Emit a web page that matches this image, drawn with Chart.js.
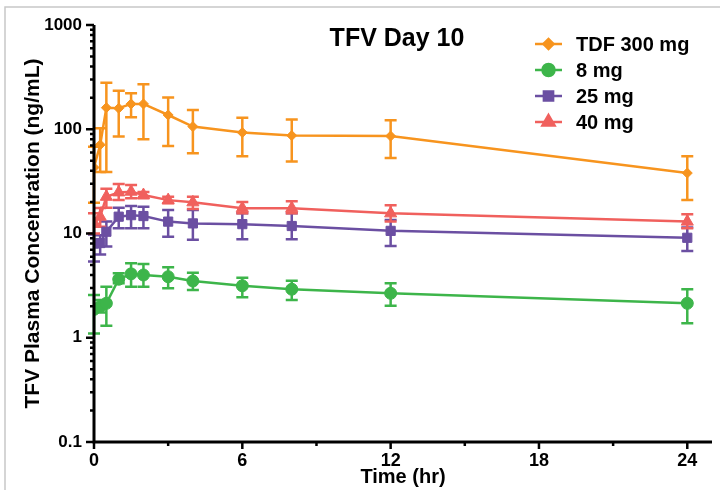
<!DOCTYPE html>
<html>
<head>
<meta charset="utf-8">
<script src="https://cdn.jsdelivr.net/npm/chart.js@4.4.1/dist/chart.umd.min.js"></script>
<style>
  html, body { margin: 0; padding: 0; background: #fff; }
  #wrap { width: 720px; height: 490px; }
</style>
</head>
<body>
<div id="wrap"><canvas id="chart" width="720" height="490"></canvas></div>
<script>
// thời gian lấy mẫu (giờ)
const times = [0, 0.25, 0.5, 1, 1.5, 2, 3, 4, 6, 8, 12, 24];

// TDF 300 mg
const tdfMean = [43, 71, 161, 159, 175, 175, 137, 106, 93, 87, 86, 38];
const tdfHi = [68, 102, 280, 234, 221, 270, 202, 153, 129, 124, 122, 55];
const tdfLo = [19.7, 39, 39, 85, 130, 80, 69, 59, 55, 49, 53, 21];

// 8 mg
const mg8Mean = [1.87, 1.99, 2.14, 3.64, 4.1, 4.0, 3.85, 3.5, 3.15, 2.92, 2.67, 2.14];
const mg8Hi = [2.57, 2.3, 3.09, 4.16, 5.17, 5.1, 4.74, 4.2, 3.77, 3.52, 3.33, 2.92];
const mg8Lo = [1.1, 1.75, 1.3, 3.33, 3.09, 3.09, 2.98, 2.87, 2.44, 2.3, 2.03, 1.38];

// 25 mg
const mg25Mean = [8.0, 8.1, 10.4, 14.5, 15.0, 14.7, 13.0, 12.5, 12.3, 11.8, 10.6, 9.1];
const mg25Hi = [9.8, 9.6, 13.0, 17.7, 18.4, 18.1, 16.8, 16.8, 15.6, 15.6, 13.5, 11.4];
const mg25Lo = [5.4, 6.3, 7.5, 11.2, 11.2, 11.2, 9.3, 8.7, 8.8, 8.8, 7.6, 6.8];

// 40 mg
const mg40Mean = [12.7, 14.5, 22.5, 24.8, 25.2, 23.4, 20.9, 19.9, 17.5, 17.5, 15.6, 13.0];
const mg40Hi = [15.6, 17.6, 26.9, 29.9, 29.2, 25.0, 22.5, 22.5, 20.1, 20.4, 18.7, 15.3];
const mg40Lo = [10.0, 11.6, 17.7, 20.9, 21.8, 21.8, 19.5, 17.2, 15.6, 15.6, 13.0, 11.2];

const xTicks = [0, 6, 12, 18, 24];
const xMinorTicks = [3, 9, 15, 21];
const yTicks = [0.1, 1, 10, 100, 1000];

const FONT = "'Liberation Sans', Arial, sans-serif";

function makeSet(label, mean, lo, hi, color, style, radius) {
  return {
    label: label,
    data: times.map((t, i) => ({ x: t, y: mean[i] })),
    errLo: lo,
    errHi: hi,
    borderColor: color,
    backgroundColor: color,
    pointBackgroundColor: color,
    pointBorderColor: color,
    pointStyle: style,
    pointRadius: radius,
    pointBorderWidth: 1,
    borderWidth: 2.5,
    tension: 0,
  };
}

const datasets = [
  makeSet("TDF 300 mg", tdfMean, tdfLo, tdfHi, "#F7941E", "rectRot", 5),
  makeSet("8 mg", mg8Mean, mg8Lo, mg8Hi, "#3DB54A", "circle", 6),
  makeSet("25 mg", mg25Mean, mg25Lo, mg25Hi, "#6B4FA2", "rect", 6.5),
  makeSet("40 mg", mg40Mean, mg40Lo, mg40Hi, "#F0605D", "triangle", 7),
];

// vẽ thanh sai số
const errorBars = {
  id: "errorBars",
  beforeDatasetsDraw(chart) {
    const { ctx } = chart;
    const y = chart.scales.y;
    chart.data.datasets.forEach((ds, i) => {
      const meta = chart.getDatasetMeta(i);
      ctx.save();
      ctx.strokeStyle = ds.borderColor;
      ctx.lineWidth = 2.5;
      meta.data.forEach((pt, j) => {
        const x = pt.x;
        const yh = y.getPixelForValue(ds.errHi[j]);
        const yl = y.getPixelForValue(ds.errLo[j]);
        ctx.beginPath();
        ctx.moveTo(x, yh); ctx.lineTo(x, yl);
        ctx.moveTo(x - 6, yh); ctx.lineTo(x + 6, yh);
        ctx.moveTo(x - 6, yl); ctx.lineTo(x + 6, yl);
        ctx.stroke();
      });
      ctx.restore();
    });
  },
};

// trục, vạch chia, khung, tiêu đề, chú thích
const decor = {
  id: "decor",
  beforeDraw(chart) {
    const { ctx } = chart;
    ctx.save();
    ctx.strokeStyle = "#c8c8c8";
    ctx.lineWidth = 1.5;
    ctx.beginPath();
    ctx.moveTo(5, 490); ctx.lineTo(5, 7); ctx.lineTo(720, 7);
    ctx.stroke();
    ctx.restore();
  },
  afterDraw(chart) {
    const { ctx, chartArea: a } = chart;
    const xs = chart.scales.x, ys = chart.scales.y;
    ctx.save();
    ctx.strokeStyle = "#000";
    ctx.lineWidth = 3;
    ctx.beginPath();
    ctx.moveTo(a.left, a.top); ctx.lineTo(a.left, a.bottom + 1.5);
    ctx.moveTo(a.left - 1.5, a.bottom); ctx.lineTo(a.right, a.bottom);
    ctx.stroke();
    // vạch trục x
    ctx.lineWidth = 2.5;
    ctx.beginPath();
    xTicks.forEach(v => { const px = xs.getPixelForValue(v); ctx.moveTo(px, a.bottom); ctx.lineTo(px, a.bottom + 7); });
    xMinorTicks.forEach(v => { const px = xs.getPixelForValue(v); ctx.moveTo(px, a.bottom); ctx.lineTo(px, a.bottom + 4); });
    // vạch trục y
    yTicks.forEach(v => { const py = ys.getPixelForValue(v); ctx.moveTo(a.left, py); ctx.lineTo(a.left - 8, py); });
    yTicks.slice(0, -1).forEach(v => {
      for (let k = 2; k <= 9; k++) {
        const py = ys.getPixelForValue(v * k);
        ctx.moveTo(a.left, py); ctx.lineTo(a.left - 4, py);
      }
    });
    ctx.stroke();

    // tiêu đề
    ctx.fillStyle = "#000";
    ctx.font = "bold 25px " + FONT;
    ctx.textAlign = "center";
    ctx.textBaseline = "alphabetic";
    ctx.fillText("TFV Day 10", 397, 46);

    // chú thích
    ctx.font = "bold 20px " + FONT;
    ctx.textAlign = "left";
    ctx.textBaseline = "middle";
    const rows = [44, 70, 96, 122];
    chart.data.datasets.forEach((ds, i) => {
      const yy = rows[i];
      ctx.strokeStyle = ds.borderColor;
      ctx.lineWidth = 2.5;
      ctx.beginPath(); ctx.moveTo(535, yy); ctx.lineTo(562, yy); ctx.stroke();
      ctx.fillStyle = ds.borderColor;
      Chart.helpers.drawPoint(ctx, { pointStyle: ds.pointStyle, radius: ds.pointRadius, rotation: 0, borderWidth: 1 }, 548.5, yy);
      ctx.fillStyle = "#000";
      ctx.fillText(ds.label, 576, yy + 1);
    });
    ctx.restore();
  },
};

new Chart(document.getElementById("chart"), {
  type: "line",
  data: { datasets: datasets },
  options: {
    responsive: false,
    animation: false,
    layout: { padding: { top: 25, right: 2, left: 0, bottom: 0 } },
    plugins: { legend: { display: false }, tooltip: { enabled: false } },
    scales: {
      x: {
        type: "linear",
        min: 0,
        max: 25,
        grid: { display: false },
        border: { display: false },
        afterFit: s => { s.height = 48; },
        ticks: {
          stepSize: 6,
          includeBounds: false,
          padding: 0,
          color: "#000",
          font: { family: FONT, size: 18, weight: "bold" },
          maxRotation: 0,
        },
        title: {
          display: true,
          text: "Time (hr)",
          color: "#000",
          padding: { top: 0, bottom: 1 },
          font: { family: FONT, size: 20, weight: "bold" },
        },
      },
      y: {
        type: "logarithmic",
        min: 0.1,
        max: 1000,
        grid: { display: false },
        border: { display: false },
        afterFit: s => { s.width = 94; },
        ticks: {
          autoSkip: false,
          padding: 4,
          color: "#000",
          font: { family: FONT, size: 17, weight: "bold" },
          callback: v => (yTicks.some(t => Math.abs(t - v) < 1e-9) ? String(v) : ""),
        },
        title: {
          display: true,
          text: "TFV Plasma Concentration (ng/mL)",
          color: "#000",
          padding: { top: 21, bottom: 0 },
          font: { family: FONT, size: 21, weight: "bold" },
        },
      },
    },
  },
  plugins: [errorBars, decor],
});
</script>
</body>
</html>
